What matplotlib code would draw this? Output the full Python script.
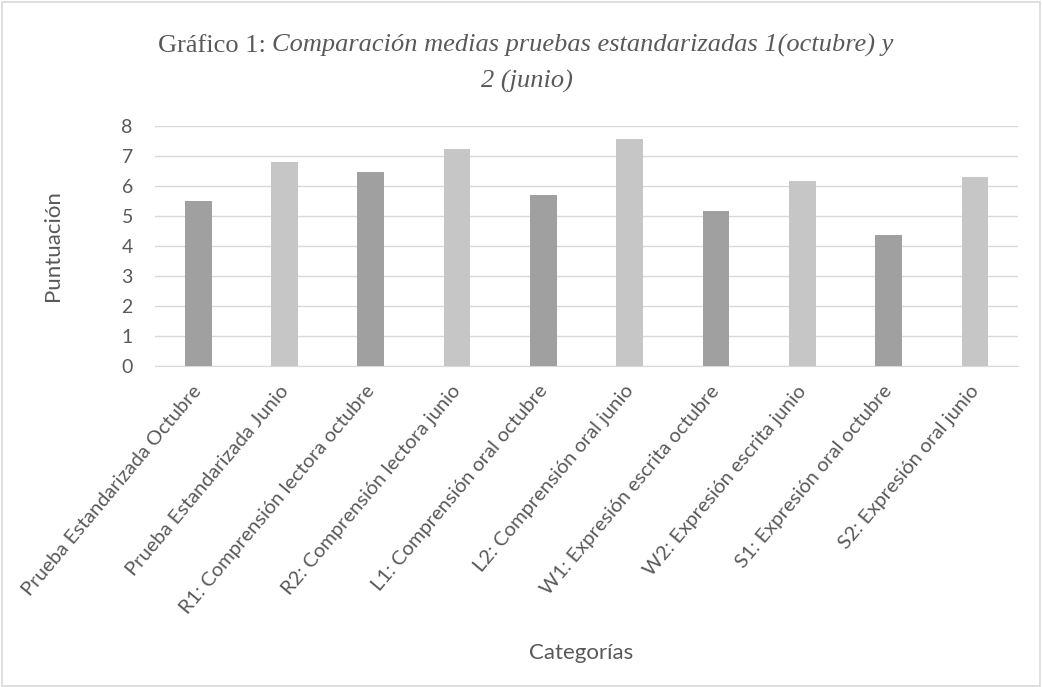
import numpy as np
import matplotlib.pyplot as plt
from matplotlib.patches import Rectangle
from matplotlib.transforms import ScaledTranslation

# Datos del gráfico
categorias = [
    "Prueba Estandarizada Octubre",
    "Prueba Estandarizada Junio",
    "R1: Comprensión lectora octubre",
    "R2: Comprensión lectora junio",
    "L1: Comprensión oral octubre",
    "L2: Comprensión oral junio",
    "W1: Expresión escrita octubre",
    "W2: Expresión escrita junio",
    "S1: Expresión oral octubre",
    "S2: Expresión oral junio",
]
puntuacion = [5.50, 6.78, 6.45, 7.21, 5.69, 7.57, 5.15, 6.16, 4.36, 6.28]
colores = ["#a0a0a0", "#c6c6c6"] * 5

plt.rcParams['font.family'] = ['Lato', 'DejaVu Sans']
gris = "#595959"

fig = plt.figure(figsize=(10.42, 6.87), dpi=100)
ax = fig.add_axes([0.1488, 0.4677, 0.8282, 0.3493])

x = np.arange(len(categorias))
ax.bar(x, puntuacion, width=0.31, color=colores, zorder=3)

ax.set_xlim(-0.5, len(categorias) - 0.5)
ax.set_ylim(0, 8)
ax.set_yticks(range(0, 9))
ax.grid(axis="y", color="#d9d9d9", linewidth=1, zorder=0)
for s in ["top", "right", "left"]:
    ax.spines[s].set_visible(False)
ax.spines["bottom"].set_color("#d9d9d9")
ax.tick_params(axis="both", length=0, colors=gris)
ax.tick_params(axis="y", labelsize=14, pad=16)
ax.set_xticks(x)
ax.set_xticklabels(categorias, rotation=50, ha="right", va="top",
                   rotation_mode="anchor", fontsize=14.5, color=gris)
ax.tick_params(axis="x", pad=12)
desp = ScaledTranslation(-6 / 100, 0, fig.dpi_scale_trans)
for lab in ax.get_xticklabels():
    lab.set_transform(lab.get_transform() + desp)

fig.text(53 / 1042, 1 - 246 / 687, "Puntuación", fontsize=16, color=gris,
         rotation=90, ha="center", va="center")
fig.text(581 / 1042, 1 - 653 / 687, "Categorías", fontsize=16, color=gris,
         ha="center", va="center")

# Título con parte normal y parte en cursiva
fig.canvas.draw()
r = fig.canvas.get_renderer()
tfont = ['Liberation Serif', 'DejaVu Serif']
t1 = fig.text(158 / 1042, 1 - 52 / 687, "Gráfico 1: ", fontsize=19,
              family=tfont, color=gris)
bb = t1.get_window_extent(r)
fig.text(bb.x1 / fig.bbox.width, 1 - 52 / 687,
         "Comparación medias pruebas estandarizadas 1(octubre) y",
         fontsize=19, family=tfont, style="italic", color=gris)
fig.text(527 / 1042, 1 - 88 / 687, "2 (junio)", fontsize=19,
         family=tfont, style="italic", color=gris, ha="center")

fig.patches.append(Rectangle((0.002, 0.002), 0.996, 0.995, transform=fig.transFigure,
                             fill=False, edgecolor="#d9d9d9", linewidth=1.2))

plt.savefig("out.png", dpi=100)
